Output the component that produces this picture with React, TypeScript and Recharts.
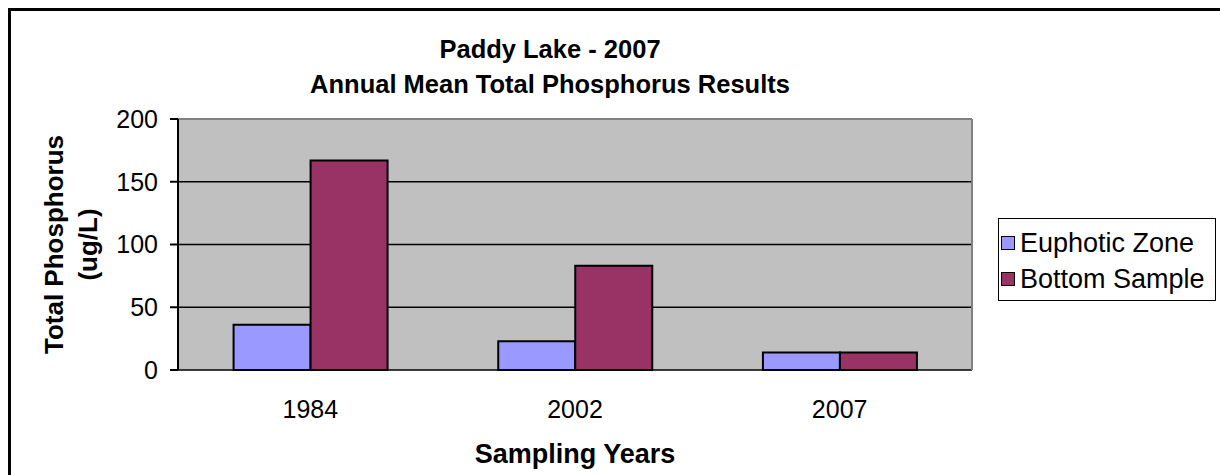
import React from "react";
import {
  BarChart,
  Bar,
  XAxis,
  YAxis,
  CartesianGrid,
  ReferenceLine,
} from "recharts";

const years = ["1984", "2002", "2007"];
const euphoticZone = [36, 23, 14];
const bottomSample = [167, 83, 14];
const yTicks = [0, 50, 100, 150, 200];
const boundaryTicks = [0, 1, 2, 3];

const FONT = "'Liberation Sans', Arial, sans-serif";

const series = [
  { key: "euphotic", name: "Euphotic Zone", color: "#9999FF" },
  { key: "bottom", name: "Bottom Sample", color: "#993366" },
];

const data = years.map((year, i) => ({
  year,
  euphotic: euphoticZone[i],
  bottom: bottomSample[i],
  pos: i + 0.5,
}));

function YLabel({ viewBox }: any) {
  const cy = viewBox.y + viewBox.height / 2;
  return (
    <g fontFamily={FONT} fontWeight="bold" fontSize={26} fill="#000">
      <text x={0} y={0} textAnchor="middle" transform={`translate(63, ${cy}) rotate(-90)`}>
        Total Phosphorus
      </text>
      <text x={0} y={0} textAnchor="middle" transform={`translate(97, ${cy}) rotate(-90)`}>
        (ug/L)
      </text>
    </g>
  );
}

function XLabel({ viewBox }: any) {
  return (
    <text
      x={viewBox.x + viewBox.width / 2}
      y={463}
      textAnchor="middle"
      fontFamily={FONT}
      fontWeight="bold"
      fontSize={27}
      fill="#000"
    >
      Sampling Years
    </text>
  );
}

function LegendBox() {
  return (
    <div
      style={{
        position: "absolute",
        left: 998,
        top: 218,
        border: "1.5px solid #000",
        background: "#fff",
        width: 218,
        height: 83,
        boxSizing: "border-box",
        padding: "6px 0 0 2px",
        fontFamily: FONT,
        fontSize: 27,
      }}
    >
      {series.map((s) => (
        <div key={s.key} style={{ display: "flex", alignItems: "center", height: 36 }}>
          <span
            style={{
              display: "inline-block",
              width: 12,
              height: 12,
              background: s.color,
              border: "1.5px solid #000",
              marginRight: 5,
            }}
          />
          {s.name}
        </div>
      ))}
    </div>
  );
}

export default function App() {
  return (
    <div style={{ position: "absolute", left: 0, top: 0, width: 1220, height: 475, background: "#fff", overflow: "hidden" }}>
      <div
        style={{
          position: "absolute",
          left: 8,
          top: 8,
          width: 1240,
          height: 500,
          borderLeft: "3px solid #000",
          borderTop: "3px solid #000",
        }}
      />
      <div
        style={{
          position: "absolute",
          left: 0,
          width: 1100,
          top: 32,
          textAlign: "center",
          fontFamily: FONT,
          fontWeight: "bold",
          fontSize: 25.5,
          lineHeight: "35px",
        }}
      >
        Paddy Lake - 2007
        <br />
        Annual Mean Total Phosphorus Results
      </div>
      <BarChart
        width={1220}
        height={475}
        data={data}
        margin={{ top: 119, right: 248, bottom: 0, left: 0 }}
        barCategoryGap="21%"
        barGap={0}
        style={{ position: "absolute", left: 0, top: 0 }}
      >
        <CartesianGrid vertical={false} stroke="#000" strokeWidth={1.5} fill="#C0C0C0" fillOpacity={1} />
        <XAxis
          xAxisId="b"
          type="number"
          dataKey="pos"
          domain={[0, 3]}
          ticks={boundaryTicks}
          tick={false}
          height={0}
          stroke="#000"
          strokeWidth={2}
          tickSize={8}
        />
        <XAxis
          dataKey="year"
          height={105}
          axisLine={false}
          tickLine={false}
          tickSize={0}
          tickMargin={30}
          tick={{ fontFamily: FONT, fontSize: 25, fill: "#000" }}
          label={<XLabel />}
        />
        <YAxis
          width={178}
          domain={[0, 200]}
          ticks={yTicks}
          interval={0}
          stroke="#000"
          strokeWidth={2}
          tickSize={8}
          tickMargin={12}
          tick={{ fontFamily: FONT, fontSize: 25, fill: "#000" }}
          label={<YLabel />}
        />
        <ReferenceLine y={200} stroke="#808080" strokeWidth={2} />
        <ReferenceLine x={3} xAxisId="b" stroke="#808080" strokeWidth={2} />
        {series.map((s) => (
          <Bar
            key={s.key}
            dataKey={s.key}
            name={s.name}
            fill={s.color}
            stroke="#000"
            strokeWidth={2}
            isAnimationActive={false}
          />
        ))}
      </BarChart>
      <LegendBox />
    </div>
  );
}
